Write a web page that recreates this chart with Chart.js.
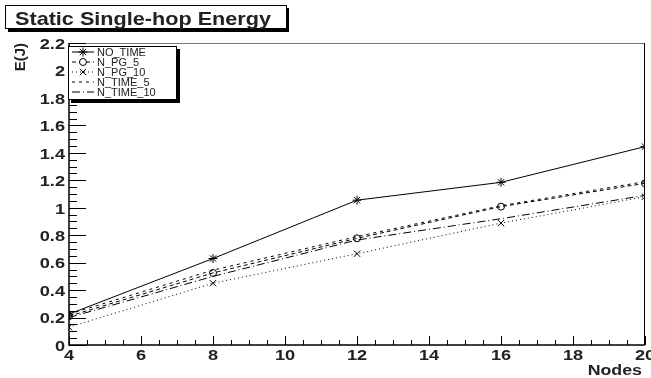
<!DOCTYPE html>
<html>
<head>
<meta charset="utf-8">
<script src="https://cdn.jsdelivr.net/npm/chart.js@4.4.1/dist/chart.umd.min.js"></script>
<style>
  body { margin: 0; background: #fff; }
  #wrap { width: 651px; height: 378px; position: relative; }
</style>
</head>
<body>
<div id="wrap"><canvas id="energyChart" width="651" height="378"></canvas></div>
<script>
// 데이터
const nodes = [4, 8, 12, 16, 20];
const noTime = [0.225, 0.63, 1.055, 1.185, 1.445];
const nPg5 = [0.21, 0.525, 0.777, 1.008, 1.178];
const nPg10 = [0.13, 0.45, 0.665, 0.888, 1.08];
const nTime5 = [0.225, 0.545, 0.79, 1.015, 1.19];
const nTime10 = [0.2, 0.5, 0.765, 0.92, 1.09];
const xTickLabels = ['4', '6', '8', '10', '12', '14', '16', '18', '20'];
const yTickLabels = ['0', '0.2', '0.4', '0.6', '0.8', '1', '1.2', '1.4', '1.6', '1.8', '2', '2.2'];
const chartTitle = 'Static Single-hop Energy';
const xTitle = 'Nodes';
const yTitle = 'E(J)';

function pts(ys) {
    return nodes.map(function(n, i) { return { x: n, y: ys[i] }; });
}

// 가로로 넓힌 글자 (ROOT Helvetica 느낌)
function wideText(ctx, text, x, y, sx, align) {
    const w = ctx.measureText(text).width * sx;
    let left = x;
    if (align === 'right') left = x - w;
    else if (align === 'center') left = x - w / 2;
    ctx.save();
    ctx.textAlign = 'left';
    ctx.translate(left, y);
    ctx.scale(sx, 1);
    ctx.fillText(text, 0, 0);
    ctx.restore();
}

// 축, 눈금, 범례, 제목 그리기
const rootStyle = {
    id: 'rootStyle',
    afterDraw: function(chart) {
        const ctx = chart.ctx;
        const xs = chart.scales.x;
        const ys = chart.scales.y;
        const a = chart.chartArea;
        ctx.save();

        // 프레임
        ctx.lineWidth = 1;
        ctx.strokeStyle = '#777';
        ctx.beginPath();
        ctx.moveTo(a.left, a.top + 0.5);
        ctx.lineTo(a.right, a.top + 0.5);
        ctx.stroke();
        ctx.strokeStyle = '#000';
        ctx.beginPath();
        ctx.moveTo(a.right - 0.5, a.top);
        ctx.lineTo(a.right - 0.5, a.bottom);
        ctx.stroke();
        ctx.lineWidth = 1.5;
        ctx.beginPath();
        ctx.moveTo(a.left, a.top);
        ctx.lineTo(a.left, a.bottom);
        ctx.lineTo(a.right, a.bottom);
        ctx.stroke();

        // y 눈금
        ctx.lineWidth = 1;
        for (let i = 0; i <= 44; i++) {
            const v = i * 0.05;
            const py = Math.round(ys.getPixelForValue(v)) + 0.5;
            const len = (i % 4 === 0) ? 17 : 8;
            ctx.beginPath();
            ctx.moveTo(a.left, py);
            ctx.lineTo(a.left + len, py);
            ctx.stroke();
        }
        // x 눈금
        for (let i = 0; i <= 32; i++) {
            const v = 4 + i * 0.5;
            const px = Math.round(xs.getPixelForValue(v)) + 0.5;
            const len = (i % 4 === 0) ? 9 : 5;
            ctx.beginPath();
            ctx.moveTo(px, a.bottom);
            ctx.lineTo(px, a.bottom - len);
            ctx.stroke();
        }

        // 눈금 라벨
        ctx.fillStyle = '#222';
        ctx.font = 'bold 14px "Liberation Sans", Arial, sans-serif';
        ctx.textBaseline = 'middle';
        yTickLabels.forEach(function(t) {
            wideText(ctx, t, a.left - 4, ys.getPixelForValue(parseFloat(t)) + 2, 1.3, 'right');
        });
        ctx.textBaseline = 'top';
        xTickLabels.forEach(function(t) {
            wideText(ctx, t, xs.getPixelForValue(parseFloat(t)), a.bottom + 4, 1.3, 'center');
        });

        // 축 제목
        ctx.textBaseline = 'alphabetic';
        wideText(ctx, xTitle, a.right - 3, 375, 1.27, 'right');
        ctx.save();
        ctx.translate(25, 43);
        ctx.rotate(-Math.PI / 2);
        ctx.font = 'bold 15px "Liberation Sans", Arial, sans-serif';
        ctx.textAlign = 'right';
        ctx.fillText(yTitle, 0, 0);
        ctx.restore();

        // 제목 상자
        ctx.fillStyle = '#000';
        ctx.fillRect(8, 8, 281, 24);
        ctx.fillStyle = '#fff';
        ctx.fillRect(5, 5, 282, 24);
        ctx.strokeStyle = '#000';
        ctx.lineWidth = 1;
        ctx.strokeRect(5.5, 5.5, 281, 23);
        ctx.fillStyle = '#222';
        ctx.font = 'bold 19px "Liberation Sans", Arial, sans-serif';
        const tw = ctx.measureText(chartTitle).width;
        wideText(ctx, chartTitle, 15, 25, 256 / tw, 'left');

        // 범례
        const lx = 68, ly = 46, lw = 109, lh = 54;
        ctx.fillStyle = '#000';
        ctx.fillRect(lx + 3, ly + 3, lw, lh);
        ctx.fillStyle = '#fff';
        ctx.fillRect(lx, ly, lw, lh);
        ctx.strokeRect(lx + 0.5, ly + 0.5, lw - 1, lh - 1);
        ctx.font = '11px "Liberation Sans", Arial, sans-serif';
        ctx.textBaseline = 'middle';
        chart.data.datasets.forEach(function(ds, i) {
            const ey = ly + 6 + i * 10;
            ctx.strokeStyle = '#000';
            ctx.lineWidth = 1;
            ctx.setLineDash(ds.borderDash || []);
            ctx.beginPath();
            ctx.moveTo(lx + 4, ey);
            ctx.lineTo(lx + 26, ey);
            ctx.stroke();
            ctx.setLineDash([]);
            if (ds.pointRadius > 0) {
                ctx.fillStyle = '#fff';
                Chart.helpers.drawPoint(ctx, {
                    pointStyle: ds.pointStyle,
                    radius: ds.pointRadius,
                    rotation: 0,
                    borderWidth: 1
                }, lx + 15, ey);
            }
            ctx.fillStyle = '#222';
            ctx.textAlign = 'left';
            ctx.fillText(ds.label, lx + 29, ey + 0.5);
        });
        ctx.restore();
    }
};

document.addEventListener('DOMContentLoaded', function() {
    const ctx = document.getElementById('energyChart');
    const common = {
        borderColor: '#000',
        backgroundColor: '#fff',
        pointBorderColor: '#000',
        pointBackgroundColor: 'rgba(0,0,0,0)',
        borderWidth: 1,
        pointBorderWidth: 1,
        tension: 0,
        fill: false
    };
    new Chart(ctx.getContext('2d'), {
        type: 'line',
        data: {
            datasets: [
                Object.assign({ label: 'NO_TIME', data: pts(noTime), pointStyle: 'star', pointRadius: 4.5 }, common),
                Object.assign({ label: 'N_PG_5', data: pts(nPg5), pointStyle: 'circle', pointRadius: 3.5, borderDash: [4, 3] }, common),
                Object.assign({ label: 'N_PG_10', data: pts(nPg10), pointStyle: 'crossRot', pointRadius: 4.5, borderDash: [1, 3] }, common),
                Object.assign({ label: 'N_TIME_5', data: pts(nTime5), pointStyle: 'circle', pointRadius: 0, borderDash: [3, 4] }, common),
                Object.assign({ label: 'N_TIME_10', data: pts(nTime10), pointStyle: 'circle', pointRadius: 0, borderDash: [8, 3, 1, 3] }, common)
            ]
        },
        options: {
            responsive: false,
            animation: false,
            layout: { padding: { top: 43, right: 6, left: 0, bottom: 0 } },
            plugins: {
                legend: { display: false },
                title: { display: false },
                tooltip: { enabled: false }
            },
            scales: {
                x: {
                    type: 'linear',
                    min: 4,
                    max: 20,
                    ticks: { display: false },
                    grid: { display: false },
                    border: { display: false },
                    afterFit: function(s) { s.height = 33; }
                },
                y: {
                    min: 0,
                    max: 2.2,
                    ticks: { display: false },
                    grid: { display: false },
                    border: { display: false },
                    afterFit: function(s) { s.width = 69; }
                }
            }
        },
        plugins: [rootStyle]
    });
});
</script>
</body>
</html>
